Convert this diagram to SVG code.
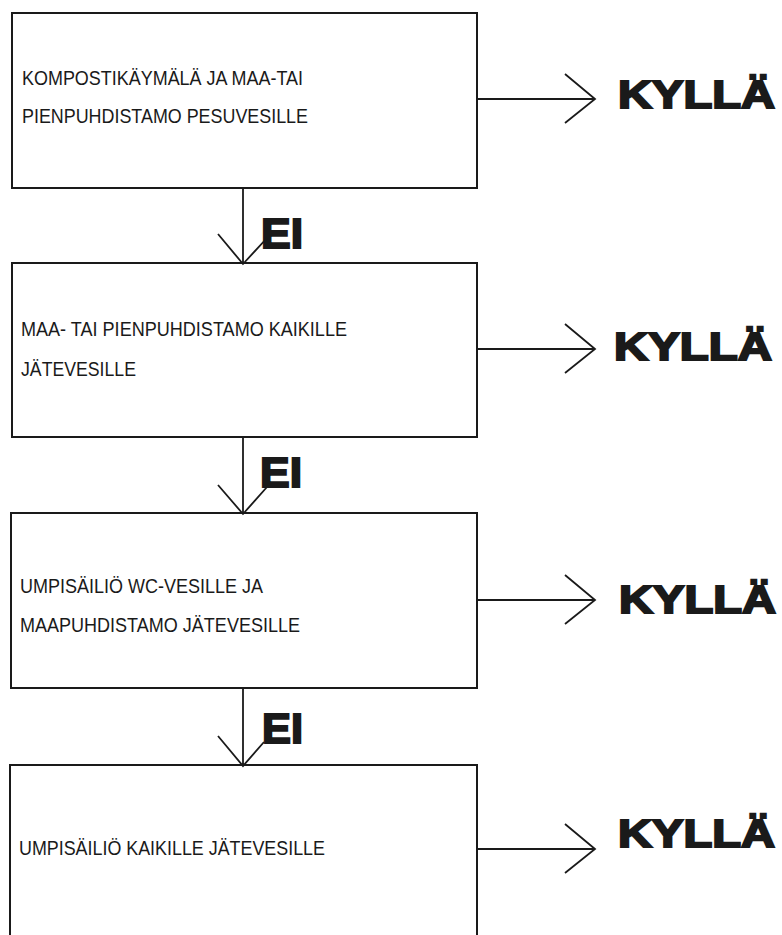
<svg xmlns="http://www.w3.org/2000/svg" width="782" height="935" viewBox="0 0 782 935">
<style>
.box{fill:#fff;stroke:#1a1a1a;stroke-width:2}
.lbl{font-family:"Liberation Sans",Arial,sans-serif;font-size:20.5px;fill:#1a1a1a}
.yes{font-family:"Liberation Sans",Arial,sans-serif;font-weight:bold;font-size:38px;fill:#1a1a1a;stroke:#1a1a1a;stroke-width:2}
.no{font-family:"Liberation Sans",Arial,sans-serif;font-weight:bold;font-size:42px;fill:#1a1a1a;stroke:#1a1a1a;stroke-width:2}
.ln{fill:none;stroke:#1a1a1a;stroke-width:1.8;stroke-linejoin:miter}
</style>
<rect width="782" height="935" fill="#fff"/>
<g id="node1">
<rect class="box" x="12" y="13" width="465" height="175"/>
<text class="lbl" x="22" y="85" textLength="281" lengthAdjust="spacingAndGlyphs">KOMPOSTIKÄYMÄLÄ JA MAA-TAI</text>
<text class="lbl" x="22" y="123" textLength="286" lengthAdjust="spacingAndGlyphs">PIENPUHDISTAMO PESUVESILLE</text>
</g>
<g id="node2">
<rect class="box" x="12" y="263" width="465" height="174"/>
<text class="lbl" x="21" y="336" textLength="326" lengthAdjust="spacingAndGlyphs">MAA- TAI PIENPUHDISTAMO KAIKILLE</text>
<text class="lbl" x="21" y="376" textLength="115" lengthAdjust="spacingAndGlyphs">JÄTEVESILLE</text>
</g>
<g id="node3">
<rect class="box" x="11" y="513" width="466" height="175"/>
<text class="lbl" x="20" y="593" textLength="243" lengthAdjust="spacingAndGlyphs">UMPISÄILIÖ WC-VESILLE JA</text>
<text class="lbl" x="20" y="632" textLength="280" lengthAdjust="spacingAndGlyphs">MAAPUHDISTAMO JÄTEVESILLE</text>
</g>
<g id="node4">
<rect class="box" x="10" y="765" width="467" height="200"/>
<text class="lbl" x="19" y="855" textLength="306" lengthAdjust="spacingAndGlyphs">UMPISÄILIÖ KAIKILLE JÄTEVESILLE</text>
</g>
<g id="yes1"><text class="yes" x="618" y="108" textLength="157" lengthAdjust="spacingAndGlyphs">KYLLÄ</text></g>
<g id="yes2"><text class="yes" x="614" y="360" textLength="158" lengthAdjust="spacingAndGlyphs">KYLLÄ</text></g>
<g id="yes3"><text class="yes" x="619" y="613" textLength="157" lengthAdjust="spacingAndGlyphs">KYLLÄ</text></g>
<g id="yes4"><text class="yes" x="618" y="847" textLength="157" lengthAdjust="spacingAndGlyphs">KYLLÄ</text></g>
<g id="no1"><text class="no" x="261" y="248" textLength="42" lengthAdjust="spacingAndGlyphs">EI</text></g>
<g id="no2"><text class="no" x="260" y="487" textLength="42" lengthAdjust="spacingAndGlyphs">EI</text></g>
<g id="no3"><text class="no" x="262" y="743" textLength="41" lengthAdjust="spacingAndGlyphs">EI</text></g>
<g id="connectors">
<path class="ln" d="M477 99H595M565 74L595 99L565 123"/>
<path class="ln" d="M477 349H595M565 324L595 349L565 373"/>
<path class="ln" d="M477 600H595M565 575L595 600L565 624"/>
<path class="ln" d="M477 849H595M565 824L595 849L565 873"/>
<path class="ln" d="M243 188V264M218 234L243 264L267 238"/>
<path class="ln" d="M243 437V514M218 485L243 514L267 487"/>
<path class="ln" d="M243 688V766M218 736L243 766L264 742"/>
</g>
</svg>
